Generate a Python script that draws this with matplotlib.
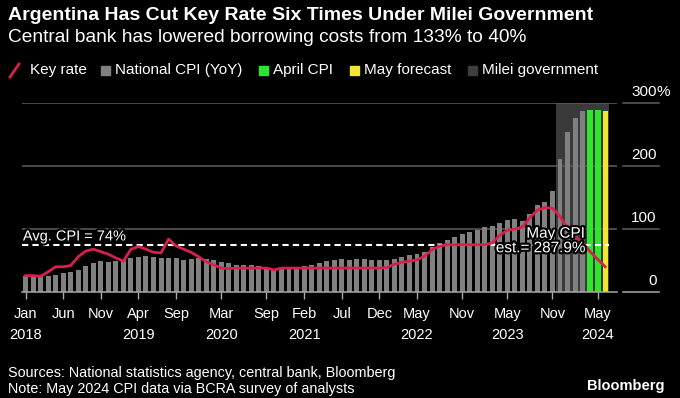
import matplotlib
matplotlib.use("Agg")
import matplotlib.pyplot as plt
import matplotlib.patheffects as pe
from matplotlib.lines import Line2D
from matplotlib.patches import Rectangle

plt.rcParams["font.family"] = ["Liberation Sans", "DejaVu Sans"]

# National CPI, YoY %, monthly from Jan 2018
cpi = [
    24.9, 25.4, 25.4, 25.5, 26.3, 29.5, 31.2, 34.4, 40.5, 45.9, 48.5, 47.6,
    49.3, 51.3, 54.7, 55.8, 57.3, 55.8, 54.4, 54.5, 53.5, 50.5, 52.1, 53.8,
    52.9, 50.3, 48.4, 45.6, 43.4, 42.8, 42.4, 40.7, 36.6, 37.2, 35.8, 36.1,
    38.5, 40.7, 42.6, 46.3, 48.8, 50.2, 51.8, 51.4, 52.5, 52.1, 51.2, 50.9,
    50.7, 52.3, 55.1, 58.0, 60.7, 64.0, 71.0, 78.5, 83.0, 88.0, 92.4, 94.8,
    98.8, 102.5, 104.3, 108.8, 114.2, 115.6, 113.4, 124.4, 138.3, 142.7, 160.9, 211.4,
    254.2, 276.2, 287.9, 289.4, 289.4, 287.9,
]
bar_kind = ["cpi"] * 75 + ["april", "april", "may"]

# key policy rate, %
key_rate = [
    26, 26, 25, 32, 40, 40, 42, 56, 65, 68, 64, 60,
    54, 49, 68, 72, 68, 63, 62, 84, 73, 68, 63, 56,
    48, 43, 38, 37, 38, 38, 38, 38, 38, 35, 38, 38,
    38, 38, 38, 38, 38, 38, 38, 38, 38, 38, 38, 38,
    39, 44, 47, 49, 51, 57, 67, 73, 75, 75, 75, 75,
    75, 75, 78, 90, 98, 100, 103, 118, 130, 134, 133, 120,
    100, 88, 78, 64, 52, 40,
]

avg_cpi = 74
milei_start, milei_end = 70.5, 77.5

tick_pos = [0, 5, 10, 15, 20, 26, 32, 37, 42, 47, 52, 58, 64, 70, 76]
tick_labels = ["Jan\n2018", "Jun", "Nov", "Apr\n2019", "Sep", "Mar\n2020", "Sep",
               "Feb\n2021", "Jul", "Dec", "May\n2022", "Nov", "May\n2023", "Nov",
               "May\n2024"]
y_ticks = [0, 100, 200, 300]
y_labels = ["0", "100", "200", "300"]

colors = {"cpi": "#808080", "april": "#2ee62e", "may": "#f2e630"}
red = "#d91f4b"

W, H = 680, 398
fig = plt.figure(figsize=(W / 100, H / 100), dpi=100, facecolor="black")
ax = fig.add_axes([22 / W, 1 - 292 / H, 595 / W, 189 / H], facecolor="black")

# Milei shading
ax.axvspan(milei_start, milei_end, ymin=0, ymax=1, color="#3a3a3a", lw=0, zorder=0)

# gridlines
for v in y_ticks[1:]:
    ax.axhline(v, color="#5e5e5e", lw=1.1, zorder=1)
for v in y_ticks:
    ax.plot([1.01, 1.07], [v, v], transform=ax.get_yaxis_transform(),
            color="#5e5e5e" if v else "#aaaaaa", lw=1.1, clip_on=False)

x = list(range(len(cpi)))
widths = [0.66 if k == "cpi" else 0.78 if k == "april" else 0.7 for k in bar_kind]
ax.bar(x, cpi, width=widths, color=[colors[k] for k in bar_kind], zorder=2)

# average line
ax.plot([-0.5, 77.5], [avg_cpi, avg_cpi], color="white", lw=1.5,
        ls=(0, (3, 2)), zorder=3)
stroke = [pe.withStroke(linewidth=3, foreground="black")]
ax.text(-0.35, avg_cpi + 3, "Avg. CPI = 74%", color="white", fontsize=10.5,
        va="bottom", ha="left", zorder=5, path_effects=stroke)

ax.plot(x, key_rate, color=red, lw=2, zorder=4, solid_joinstyle="round")

ax.text(74.3, 81, "May CPI\nest.= 287.9%", color="white", fontsize=11,
        ha="right", va="center", multialignment="right", linespacing=1.05,
        zorder=6, path_effects=stroke)

ax.set_xlim(-0.47, 78.57)
ax.set_ylim(0, 300)
for s in ["top", "right", "left"]:
    ax.spines[s].set_visible(False)
ax.spines["bottom"].set_color("#aaaaaa")
ax.spines["bottom"].set_linewidth(1.1)
ax.set_yticks([])
ax.set_xticks(tick_pos)
ax.set_xticklabels(tick_labels, linespacing=1.6)
ax.tick_params(axis="x", colors="#aaaaaa", length=5, width=1, pad=6,
               labelcolor="white", labelsize=10.5)

for v, lab in zip(y_ticks, y_labels):
    ax.text(1.067, v + 6, lab, transform=ax.get_yaxis_transform(), color="white",
            fontsize=11, ha="right", va="bottom")
ax.text(1.067, 306, "%", transform=ax.get_yaxis_transform(), color="white",
        fontsize=11, ha="left", va="bottom")

# title block
fig.text(8 / W, 1 - 15 / H, "Argentina Has Cut Key Rate Six Times Under Milei Government",
         color="white", fontsize=14, fontweight="bold", va="center")
fig.text(8 / W, 1 - 38 / H, "Central bank has lowered borrowing costs from 133% to 40%",
         color="white", fontsize=13.8, va="center")

# legend
ly = 1 - 70 / H
fig.add_artist(Line2D([10 / W, 19 / W], [1 - 77 / H, 1 - 64 / H], color=red, lw=2))
fig.text(30 / W, ly, "Key rate", color="white", fontsize=11, va="center")
legend_items = [(101, "#808080", "National CPI (YoY)"), (259, "#2ee62e", "April CPI"),
                (350, "#f2e630", "May forecast"), (468, "#3e3e3e", "Milei government")]
for lx, c, lab in legend_items:
    fig.add_artist(Rectangle((lx / W, 1 - 75 / H), 9 / W, 9 / H, color=c,
                             transform=fig.transFigure))
    fig.text((lx + 14) / W, ly, lab, color="white", fontsize=11, va="center")

# footer
fig.text(8 / W, 1 - 373 / H, "Sources: National statistics agency, central bank, Bloomberg",
         color="white", fontsize=10.4, va="center")
fig.text(8 / W, 1 - 389 / H, "Note: May 2024 CPI data via BCRA survey of analysts",
         color="white", fontsize=10.4, va="center")
fig.text(665 / W, 1 - 386 / H, "Bloomberg", color="white", fontsize=10.5,
         fontweight="bold", ha="right", va="center")

fig.savefig("out.png", dpi=100, facecolor="black")
